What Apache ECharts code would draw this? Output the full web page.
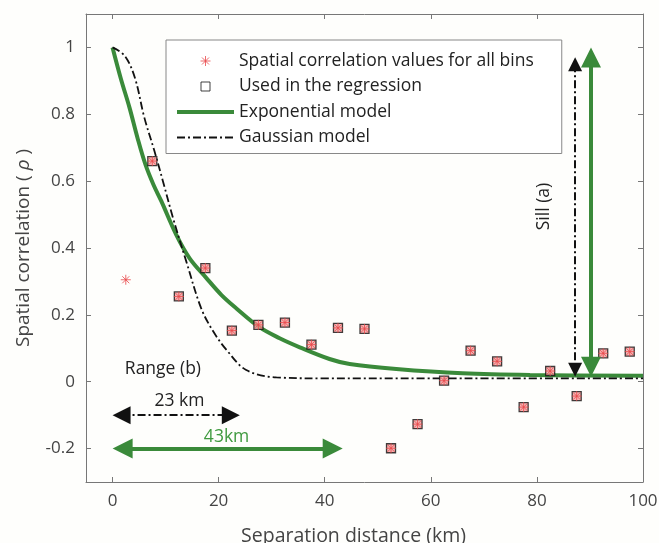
<!DOCTYPE html>
<html lang="en">
<head>
<meta charset="UTF-8">
<title>Spatial correlation</title>
<script src="https://cdn.jsdelivr.net/npm/echarts@6/dist/echarts.min.js"></script>
<style>
    html, body { margin: 0; padding: 0; background: #fefefc; }
    #chart { width: 659px; height: 543px; }
</style>
</head>
<body>
<div id="chart"></div>
<script>
// bins (km) and the correlation found in each one
var binDist = [2.5, 7.5, 12.5, 17.5, 22.5, 27.5, 32.5, 37.5, 42.5, 47.5,
               52.5, 57.5, 62.5, 67.5, 72.5, 77.5, 82.5, 87.5, 92.5, 97.5];
var binRho = [0.305, 0.66, 0.255, 0.34, 0.153, 0.17, 0.177, 0.111, 0.161, 0.158,
              -0.199, -0.127, 0.003, 0.093, 0.061, -0.076, 0.032, -0.043, 0.085, 0.09];
var usedInFit = [false, true, true, true, true, true, true, true, true, true,
                 true, true, true, true, true, true, true, true, true, true];

// fitted models
var expDist = [0, 1.6, 3.2, 4.7, 6.2, 7.7, 9.2, 12, 14.5, 17.7, 20.5, 23.3, 27.7, 31.5, 35.3, 40.9, 44.7, 53.5, 66, 78.7, 100];
var expRho = [1, 0.905, 0.82, 0.73, 0.65, 0.59, 0.54, 0.44, 0.37, 0.31, 0.26, 0.22, 0.163, 0.13, 0.103, 0.068, 0.053, 0.038, 0.025, 0.02, 0.018];
var gaussDist = [0, 2.3, 4.2, 6, 7.9, 9.5, 11.4, 13.9, 16.7, 19, 21.5, 25.2, 30.9, 40, 60, 100];
var gaussRho = [1, 0.975, 0.91, 0.79, 0.69, 0.6, 0.49, 0.36, 0.22, 0.15, 0.095, 0.035, 0.013, 0.01, 0.01, 0.01];

// sill and range arrows: [x1, y1, x2, y2] (centres of the heads)
var sillGauss = [87.2, 0.95, 87.2, 0.036];
var sillExp = [90.2, 0.97, 90.2, 0.045];
var rangeGauss = [1.7, -0.1, 22.3, -0.1];
var rangeExp = [1.9, -0.2, 41.5, -0.2];

var xTicks = [0, 20, 40, 60, 80, 100];
var yTicks = [-0.2, 0, 0.2, 0.4, 0.6, 0.8, 1];

var FONT = '"Open Sans", "Noto Sans", sans-serif';
var GREEN = '#3a8a3a';
var AXIS = '#777';

var asterisk = 'path://M5,0L5,10M0,5L10,5M1.5,1.5L8.5,8.5M1.5,8.5L8.5,1.5';
var asteriskIcon = 'path://M0,0M14,14M7,2L7,12M2,7L12,7M3.5,3.5L10.5,10.5M3.5,10.5L10.5,3.5';
var squareIcon = 'path://M0,0M14,14M2.5,2.5L11.5,2.5L11.5,11.5L2.5,11.5Z';

function pairs(xs, ys) {
    var out = [];
    for (var i = 0; i < xs.length; i++) out.push([xs[i], ys[i]]);
    return out;
}
var allBins = pairs(binDist, binRho);
var usedBins = allBins.filter(function (p, i) { return usedInFit[i]; });

function arrow(a, size) {
    return [[{coord: [a[0], a[1]], symbolSize: size}, {coord: [a[2], a[3]], symbolSize: size}]];
}

function xAxisOpt(pos) {
    return {
        type: 'value', min: -5, max: 100, position: pos,
        axisLine: {show: true, onZero: false, lineStyle: {color: AXIS, width: 1}},
        axisTick: {show: true, inside: true, length: 5, customValues: xTicks, lineStyle: {color: AXIS}},
        axisLabel: {show: pos === 'bottom', customValues: xTicks, color: '#444', fontSize: 17,
                    fontFamily: FONT, margin: 11},
        splitLine: {show: false}
    };
}
function yAxisOpt(pos) {
    return {
        type: 'value', min: -0.3, max: 1.1, position: pos,
        axisLine: {show: true, onZero: false, lineStyle: {color: AXIS, width: 1}},
        axisTick: {show: true, inside: true, length: 5, customValues: yTicks, lineStyle: {color: AXIS}},
        axisLabel: {show: pos === 'left', customValues: yTicks, color: '#444', fontSize: 17,
                    fontFamily: FONT, margin: 11,
                    formatter: function (v) { return String(Math.round(v * 10) / 10); }},
        splitLine: {show: false}
    };
}

var xBottom = xAxisOpt('bottom');
xBottom.name = 'Separation distance (km)';
xBottom.nameLocation = 'middle';
xBottom.nameGap = 44;
xBottom.nameTextStyle = {color: '#444', fontSize: 19.5, fontFamily: FONT, padding: [0, 22, 0, 0]};
var yLeft = yAxisOpt('left');
yLeft.name = 'Spatial correlation ( {i|ρ} )';
yLeft.nameLocation = 'middle';
yLeft.nameGap = 53;
yLeft.nameTextStyle = {color: '#444', fontSize: 19, fontFamily: FONT,
                       rich: {i: {fontStyle: 'italic', fontSize: 19, color: '#444', fontFamily: FONT}}};

var chart = echarts.init(document.getElementById('chart'));
chart.setOption({
    backgroundColor: '#fefefc',
    animation: false,
    grid: {left: 86, right: 16, top: 14, bottom: 61, outerBoundsMode: 'none', containLabel: false},
    xAxis: [xBottom, xAxisOpt('top')],
    yAxis: [yLeft, yAxisOpt('right')],
    legend: {
        orient: 'vertical', left: 166, top: 40,
        padding: [12, 28, 7, 9], itemGap: 7.5,
        itemWidth: 57, itemHeight: 14,
        backgroundColor: '#fff', borderColor: '#888', borderWidth: 1, borderRadius: 0,
        textStyle: {color: '#222', fontSize: 17.5, fontFamily: FONT},
        itemStyle: {borderWidth: 1},
        selectedMode: false,
        data: [
            {name: 'Spatial correlation values for all bins', icon: asteriskIcon},
            {name: 'Used in the regression', icon: squareIcon, itemStyle: {color: '#fff'}},
            {name: 'Exponential model', lineStyle: {width: 4}},
            {name: 'Gaussian model', lineStyle: {width: 1.8}}
        ]
    },
    series: [
        {
            name: 'Exponential model', type: 'line', data: pairs(expDist, expRho),
            symbol: 'none', smooth: 0.35, z: 2,
            lineStyle: {color: GREEN, width: 4},
            itemStyle: {color: 'transparent', borderColor: 'transparent'}
        },
        {
            name: 'Gaussian model', type: 'line', data: pairs(gaussDist, gaussRho),
            symbol: 'none', smooth: 0.35, z: 2,
            lineStyle: {color: '#111', width: 1.8, type: [8, 3, 2, 3]},
            itemStyle: {color: 'transparent', borderColor: 'transparent'}
        },
        {
            name: 'Used in the regression', type: 'scatter', data: usedBins,
            symbol: 'rect', symbolSize: 9, symbolKeepAspect: true, z: 3,
            itemStyle: {color: '#f2a0a0', borderColor: '#111', borderWidth: 1.3}
        },
        {
            name: 'Spatial correlation values for all bins', type: 'scatter', data: allBins,
            symbol: asterisk, symbolSize: 10, symbolKeepAspect: true, z: 4,
            itemStyle: {color: 'transparent', borderColor: '#e8474a', borderWidth: 1}
        },
        {
            name: 'black arrows', type: 'line', data: [], z: 2,
            markLine: {
                silent: true, symbol: ['triangle', 'triangle'], animation: false,
                label: {show: false},
                lineStyle: {color: '#111', width: 2, type: [8, 3, 2, 3]},
                itemStyle: {color: '#111'},
                emphasis: {disabled: true},
                data: arrow(sillGauss, 14).concat(arrow(rangeGauss, 18))
            }
        },
        {
            name: 'green arrows', type: 'line', data: [], z: 2,
            markLine: {
                silent: true, symbol: ['triangle', 'triangle'], animation: false,
                label: {show: false},
                lineStyle: {color: GREEN, width: 4, type: 'solid'},
                itemStyle: {color: GREEN},
                emphasis: {disabled: true},
                data: arrow(sillExp, 20).concat(arrow(rangeExp, 20))
            }
        }
    ]
});

// text notes placed in data coordinates
var notes = [
    {text: 'Range (b)', at: [9.5, 0.039], color: '#222', rotate: 0},
    {text: '23 km', at: [12.6, -0.057], color: '#222', rotate: 0},
    {text: '43km', at: [21.5, -0.165], color: '#3f9a3f', rotate: 0},
    {text: 'Sill (a)', at: [81.4, 0.524], color: '#222', rotate: 90}
];
chart.setOption({
    graphic: notes.map(function (n) {
        var p = chart.convertToPixel({gridIndex: 0}, n.at);
        return {
            type: 'text', x: p[0], y: p[1], rotation: n.rotate * Math.PI / 180, z: 10,
            style: {text: n.text, fill: n.color, font: '17.5px ' + FONT, align: 'center', verticalAlign: 'middle'}
        };
    })
});
</script>
</body>
</html>
